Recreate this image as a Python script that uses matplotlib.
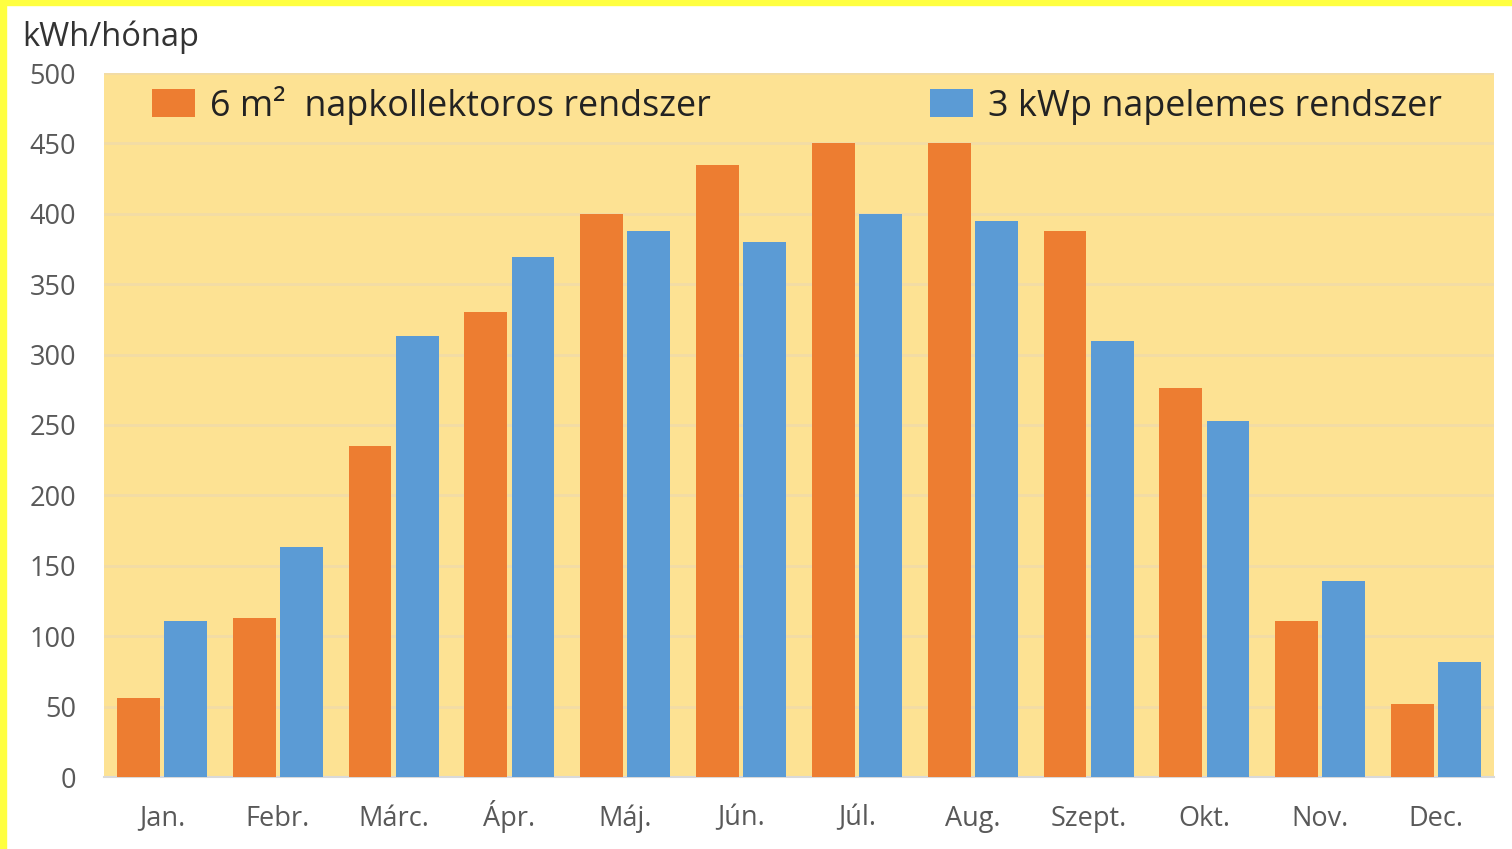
"""Havi energiahozam: napkollektoros vs. napelemes rendszer."""
import matplotlib

matplotlib.use("Agg")
import matplotlib.pyplot as plt
import numpy as np
from matplotlib.patches import Rectangle

MONTHS = ["Jan.", "Febr.", "Márc.", "Ápr.", "Máj.", "Jún.",
          "Júl.", "Aug.", "Szept.", "Okt.", "Nov.", "Dec."]
COLLECTOR = [56, 113, 235, 330, 400, 435, 450, 450, 388, 276, 111, 52]
PV = [111, 163, 313, 369, 388, 380, 400, 395, 310, 253, 139, 82]
SERIES_NAMES = ["6 m\u00b2  napkollektoros rendszer", "3 kWp napelemes rendszer"]
Y_TICKS = [0, 50, 100, 150, 200, 250, 300, 350, 400, 450, 500]

ORANGE = "#ED7D31"
BLUE = "#5B9BD5"
PLOT_BG = "#FDE293"
GRID = "#F2DCA6"

plt.rcParams["font.family"] = ["Open Sans", "DejaVu Sans"]

fig = plt.figure(figsize=(15.12, 8.49), dpi=100)
fig.patch.set_facecolor("white")
ax = fig.add_axes([104 / 1512, 1 - 777 / 849, 1390 / 1512, 704 / 849])
ax.set_facecolor(PLOT_BG)

x = np.arange(len(MONTHS))
width = 0.37
ax.bar(x - width / 2 - 0.018, COLLECTOR, width, color=ORANGE, label=SERIES_NAMES[0], zorder=3)
ax.bar(x + width / 2 + 0.018, PV, width, color=BLUE, label=SERIES_NAMES[1], zorder=3)

ax.set_xlim(-0.5, len(MONTHS) - 0.5)
ax.set_ylim(0, 500)
ax.set_yticks(Y_TICKS)
ax.set_xticks(x, MONTHS)
ax.grid(axis="y", color=GRID, linewidth=2, zorder=1)
ax.set_axisbelow(True)
for side in ("top", "right", "left"):
    ax.spines[side].set_visible(False)
ax.spines["bottom"].set_color("#D9D9D9")
ax.spines["bottom"].set_linewidth(1.5)
ax.tick_params(axis="both", length=0, labelsize=19.5, labelcolor="#595959")
ax.tick_params(axis="y", pad=20)
ax.tick_params(axis="x", pad=35)
for label in ax.get_xticklabels():
    label.set_verticalalignment("baseline")

ax.legend(loc="center left", bbox_to_anchor=(0.0245, 0.9545), ncol=2, frameon=False,
          fontsize=25.8, labelcolor="#222222", handlelength=1.2, handleheight=0.81,
          handletextpad=0.42, columnspacing=6.1, borderaxespad=0)

fig.text(22 / 1512, 1 - 37 / 849, "kWh/hónap", fontsize=23.5, color="#333333",
         ha="left", va="center")

# yellow frame of the original scan
fig.patches.append(Rectangle((0, 1 - 5 / 849), 1, 5 / 849, transform=fig.transFigure,
                             color="#FFFF40", zorder=10))
fig.patches.append(Rectangle((0, 0), 6 / 1512, 1, transform=fig.transFigure,
                             color="#FFFF40", zorder=10))

fig.savefig("out.png", dpi=100)
